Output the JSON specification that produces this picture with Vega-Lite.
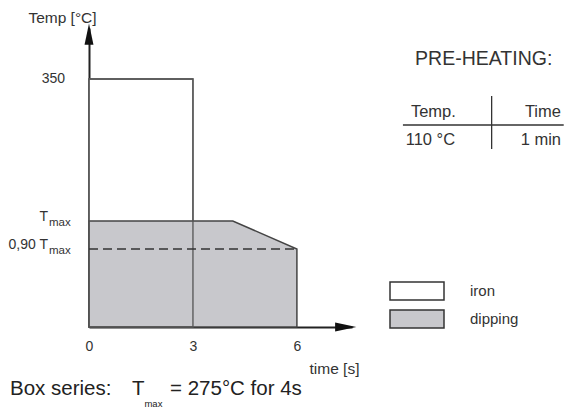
{
  "$schema": "https://vega.github.io/schema/vega-lite/v6.json",
  "width": 263,
  "height": 299,
  "autosize": "none",
  "padding": {"left": 89, "top": 28, "right": 212, "bottom": 88},
  "background": "white",
  "config": {
    "font": "Liberation Sans",
    "view": {"stroke": null},
    "legend": {
      "orient": "none",
      "legendX": 300,
      "legendY": 249,
      "symbolType": "M-1,-0.33H1V0.33H-1Z",
      "symbolSize": 2916,
      "symbolStrokeColor": "#333",
      "symbolStrokeWidth": 1.5,
      "symbolOpacity": 1,
      "labelFontSize": 15,
      "labelColor": "#333",
      "labelOffset": 25,
      "clipHeight": 28,
      "rowPadding": 0,
      "padding": 0
    }
  },
  "datasets": {
    "iron": [{"part": "iron", "t_start": 0, "t_end": 3, "temp_low": 0, "temp_high": 350}],
    "dipping": [
      {"part": "dipping", "t": 0, "temp": 149.6},
      {"part": "dipping", "t": 4.15, "temp": 149.6},
      {"part": "dipping", "t": 6, "temp": 110}
    ],
    "levels": [{"level": "0,90 Tmax", "t_start": 0, "t_end": 6, "temp": 110}],
    "ylabels": [
      {"label": "T", "sub": "max", "temp": 149.6},
      {"label": "0,90 T", "sub": "max", "temp": 110}
    ],
    "one": [{}]
  },
  "layer": [
    {
      "data": {"name": "iron"},
      "mark": {"type": "rect", "stroke": "#555", "strokeWidth": 1.3},
      "encoding": {
        "x": {
          "field": "t_start", "type": "quantitative",
          "scale": {"domain": [0, 7.59], "nice": false, "zero": true},
          "axis": {
            "values": [0, 3, 6], "ticks": false, "grid": false, "labelFlush": false,
            "labelFontSize": 14, "labelColor": "#333", "labelPadding": 12,
            "domainColor": "#222", "domainWidth": 2,
            "title": "time [s]", "titleFontSize": 15.5, "titleFontWeight": "normal", "titleColor": "#333",
            "titleX": 245, "titleY": 41, "titleAlign": "center", "titleBaseline": "middle"
          }
        },
        "x2": {"field": "t_end"},
        "y": {
          "field": "temp_low", "type": "quantitative",
          "scale": {"domain": [0, 422], "nice": false, "zero": true},
          "axis": {
            "labels": false, "ticks": false, "grid": false,
            "domainColor": "#222", "domainWidth": 2,
            "title": "Temp [°C]", "titleAngle": 0, "titleFontSize": 15.5, "titleFontWeight": "normal", "titleColor": "#333",
            "titleX": -27, "titleY": -11, "titleAlign": "center", "titleBaseline": "middle"
          }
        },
        "y2": {"field": "temp_high"},
        "fill": {
          "field": "part", "type": "nominal",
          "scale": {"domain": ["iron", "dipping"], "range": ["#ffffff", "#c8c8cc"]},
          "legend": {"title": null}
        }
      }
    },
    {
      "data": {"name": "dipping"},
      "mark": {"type": "area", "stroke": "#444", "strokeWidth": 1.5},
      "encoding": {
        "x": {"field": "t", "type": "quantitative"},
        "y": {"field": "temp", "type": "quantitative"},
        "y2": {"datum": 0},
        "fill": {"field": "part", "type": "nominal"}
      }
    },
    {
      "data": {"name": "iron"},
      "mark": {"type": "rect", "filled": false, "stroke": "#555", "strokeWidth": 1.3},
      "encoding": {
        "x": {"field": "t_start", "type": "quantitative"},
        "x2": {"field": "t_end"},
        "y": {"field": "temp_low", "type": "quantitative"},
        "y2": {"field": "temp_high"}
      }
    },
    {
      "data": {"name": "levels"},
      "mark": {"type": "rule", "stroke": "#333", "strokeWidth": 1.5, "strokeDash": [9, 5]},
      "encoding": {
        "x": {"field": "t_start", "type": "quantitative"},
        "x2": {"field": "t_end"},
        "y": {"field": "temp", "type": "quantitative"}
      }
    },
    {
      "data": {"name": "one"},
      "mark": {"type": "point", "shape": "M0,-1L-0.42,1L0.42,1Z", "filled": true, "color": "#111", "size": 450, "opacity": 1},
      "encoding": {"x": {"datum": 0}, "y": {"datum": 413.5}}
    },
    {
      "data": {"name": "one"},
      "mark": {"type": "point", "shape": "M1,0L-1,-0.42L-1,0.42Z", "filled": true, "color": "#111", "size": 450, "opacity": 1},
      "encoding": {"x": {"datum": 7.41}, "y": {"datum": 0}}
    },
    {
      "data": {"name": "one"},
      "mark": {"type": "text", "align": "right", "baseline": "middle", "fontSize": 14, "color": "#333", "dx": -24},
      "encoding": {"x": {"datum": 0}, "y": {"datum": 350}, "text": {"value": "350"}}
    },
    {
      "data": {"name": "ylabels"},
      "mark": {"type": "text", "align": "right", "baseline": "middle", "fontSize": 14, "color": "#333", "dx": -41, "dy": -4},
      "encoding": {"x": {"datum": 0}, "y": {"field": "temp", "type": "quantitative"}, "text": {"field": "label"}}
    },
    {
      "data": {"name": "ylabels"},
      "mark": {"type": "text", "align": "left", "baseline": "middle", "fontSize": 11.5, "color": "#333", "dx": -40, "dy": 1.5},
      "encoding": {"x": {"datum": 0}, "y": {"field": "temp", "type": "quantitative"}, "text": {"field": "sub"}}
    },
    {
      "data": {"name": "one"},
      "mark": {"type": "text", "align": "center", "baseline": "middle", "fontSize": 19.5, "color": "#333"},
      "encoding": {"x": {"datum": 11.39}, "y": {"datum": 378.2}, "text": {"value": "PRE-HEATING:"}}
    },
    {
      "data": {"name": "one"},
      "mark": {"type": "text", "align": "left", "baseline": "middle", "fontSize": 16.5, "color": "#333"},
      "encoding": {"x": {"datum": 9.29}, "y": {"datum": 303.4}, "text": {"value": "Temp."}}
    },
    {
      "data": {"name": "one"},
      "mark": {"type": "text", "align": "center", "baseline": "middle", "fontSize": 16.5, "color": "#333"},
      "encoding": {"x": {"datum": 13.1}, "y": {"datum": 303.4}, "text": {"value": "Time"}}
    },
    {
      "data": {"name": "one"},
      "mark": {"type": "text", "align": "left", "baseline": "middle", "fontSize": 16.5, "color": "#333"},
      "encoding": {"x": {"datum": 9.14}, "y": {"datum": 263.9}, "text": {"value": "110 °C"}}
    },
    {
      "data": {"name": "one"},
      "mark": {"type": "text", "align": "center", "baseline": "middle", "fontSize": 16.5, "color": "#333"},
      "encoding": {"x": {"datum": 13.04}, "y": {"datum": 263.9}, "text": {"value": "1 min"}}
    },
    {
      "data": {"name": "one"},
      "mark": {"type": "rule", "stroke": "#333", "strokeWidth": 1.3},
      "encoding": {"x": {"datum": 9.06}, "x2": {"datum": 13.7}, "y": {"datum": 285.1}}
    },
    {
      "data": {"name": "one"},
      "mark": {"type": "rule", "stroke": "#333", "strokeWidth": 1.3},
      "encoding": {"x": {"datum": 11.62}, "y": {"datum": 251.2}, "y2": {"datum": 326}}
    },
    {
      "data": {"name": "one"},
      "mark": {"type": "text", "align": "left", "baseline": "middle", "fontSize": 20.5, "color": "#222"},
      "encoding": {"x": {"datum": -2.28}, "y": {"datum": -87.5}, "text": {"value": "Box series:"}}
    },
    {
      "data": {"name": "one"},
      "mark": {"type": "text", "align": "left", "baseline": "middle", "fontSize": 20.5, "color": "#222"},
      "encoding": {"x": {"datum": 1.241}, "y": {"datum": -87.5}, "text": {"value": "T"}}
    },
    {
      "data": {"name": "one"},
      "mark": {"type": "text", "align": "left", "baseline": "middle", "fontSize": 9.5, "color": "#222"},
      "encoding": {"x": {"datum": 1.6}, "y": {"datum": -109}, "text": {"value": "max"}}
    },
    {
      "data": {"name": "one"},
      "mark": {"type": "text", "align": "left", "baseline": "middle", "fontSize": 20.5, "color": "#222"},
      "encoding": {"x": {"datum": 2.338}, "y": {"datum": -87.5}, "text": {"value": "= 275°C for 4s"}}
    }
  ]
}
